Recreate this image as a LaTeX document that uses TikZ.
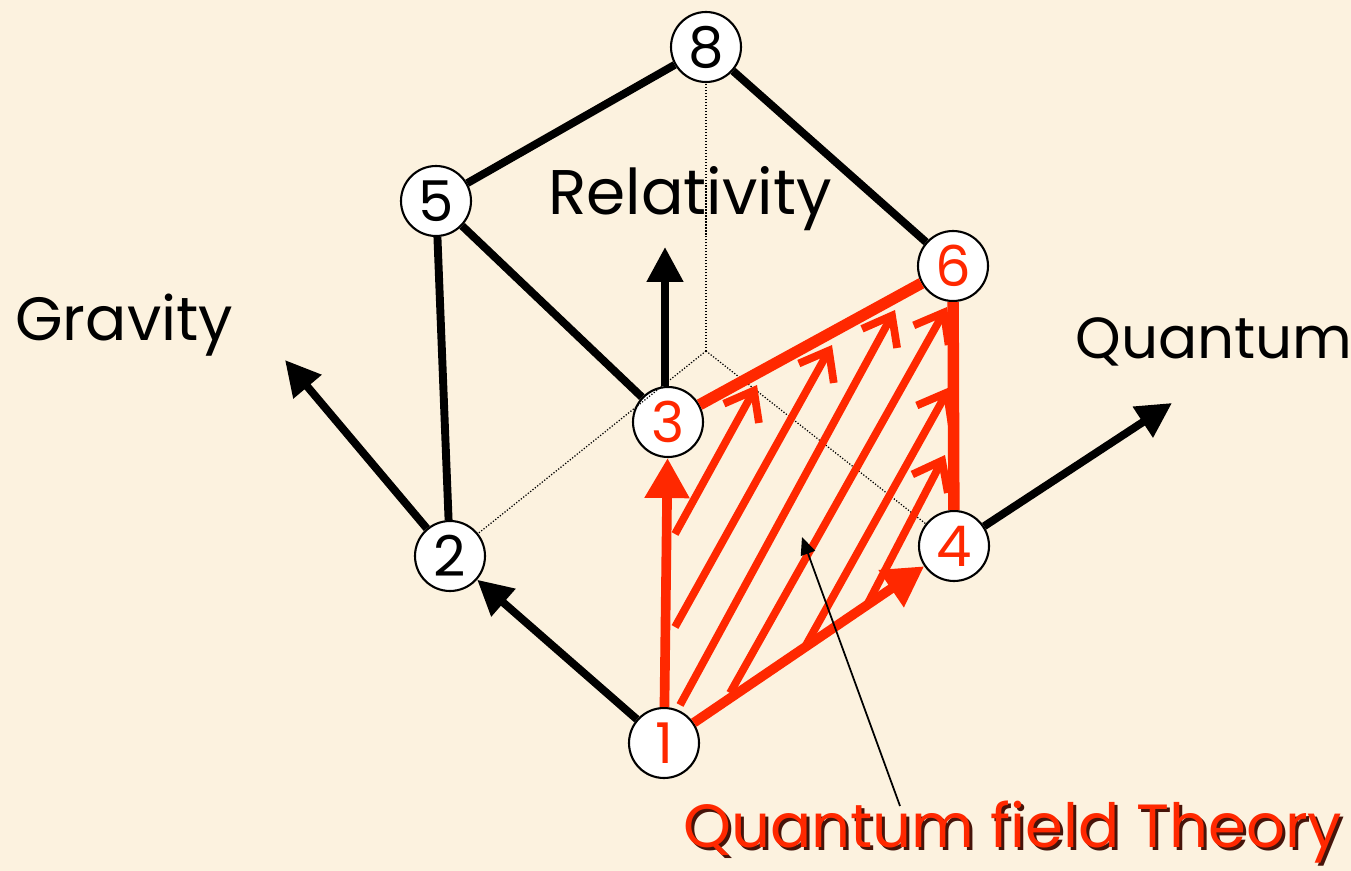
\documentclass[tikz,border=0pt]{standalone}
\usepackage{fontspec}
\setmainfont{Poppins}
\usetikzlibrary{arrows.meta}
\definecolor{paper}{RGB}{252,242,223}
\definecolor{qred}{RGB}{255,40,0}
\definecolor{qshadow}{RGB}{70,20,10}
\tikzset{
  vtx/.style={circle, draw=black, line width=1.2pt, fill=white, minimum size=1.4cm, inner sep=0pt, font=\fontsize{32}{32}\selectfont},
  cubeedge/.style={line width=4.5pt},
  axis/.style={line width=4.5pt, -{Triangle[length=0.7cm, width=0.7cm]}},
  redaxis/.style={qred, line width=5.5pt, -{Triangle[length=0.8cm, width=0.85cm]}},
  rededge/.style={qred, line width=6.5pt},
  hatch/.style={qred, line width=4.4pt, -{Straight Barb[length=0.52cm, width=0.8cm]}},
  hidden/.style={densely dotted, line width=0.7pt},
  label/.style={anchor=base west, inner sep=0pt}
}
\begin{document}
\begin{tikzpicture}[x=0.02cm, y=-0.02cm]
    \fill[paper] (0,0) rectangle (1351,871);
    \useasboundingbox (0,0) rectangle (1351,871);

    % cube vertices
    \node[vtx] (n8) at (706,47) {8};
    \node[vtx] (n5) at (436,201) {5};
    \node[vtx, text=qred] (n6) at (953,266) {6};
    \node[vtx, text=qred] (n3) at (668,422) {3};
    \node[vtx] (n2) at (450,556) {2};
    \node[vtx, text=qred] (n4) at (954,546) {4};
    \node[vtx, text=qred] (n1) at (664,743) {1};
    \coordinate (n7) at (706,351);

    % hidden edges
    \draw[hidden] (n7) -- (n8);
    \draw[hidden] (n7) -- (n2);
    \draw[hidden] (n7) -- (n4);

    % visible edges
    \draw[cubeedge] (n8) -- (n5);
    \draw[cubeedge] (n8) -- (n6);
    \draw[cubeedge] (n5) -- (n2);
    \draw[cubeedge] (n5) -- (n3);

    % axes
    \coordinate (gtip) at (285,360);
    \coordinate (rtip) at (665,247);
    \coordinate (qtip) at (1172,403);
    \draw[axis] (n1) -- (n2);
    \draw[axis] (n2) -- (gtip);
    \draw[axis] (n3.north) ++(-3,0) -- (rtip);
    \draw[axis] (n4) -- (qtip);

    % quantum field theory face
    \draw[rededge] (n3) -- (n6);
    \draw[rededge] (n4) -- (n6);
    \draw[redaxis] (n1) -- (n3);
    \draw[redaxis] (n1) -- (n4);
    \foreach \xa/\ya/\xb/\yb in {675/534/757/385, 675/627/832/345, 680/705/895/310,
        730/693/947/307, 806/645/950/387, 868/603/945/455}
      \draw[hatch] (\xa,\ya) -- (\xb,\yb);

    % labels
    \node[label, font=\fontsize{34.8}{35}\selectfont] (grav) at (15,340) {Gravity};
    \node[label, font=\fontsize{35.9}{36}\selectfont] (rel) at (548,215) {Relativity};
    \node[label, font=\fontsize{33}{33}\selectfont] (quant) at (1075,358) {Quantum};
    \node[label, text=qshadow, font=\fontsize{34.7}{35}\selectfont] at (686,850) {Quantum field Theory};
    \node[label, text=qred, font=\fontsize{34.7}{35}\selectfont] (qft) at (683,847) {Quantum field Theory};
    \coordinate (qftfoot) at (900,806);
    \coordinate (face) at (802,537);
    \draw[line width=1pt, -{Triangle[length=0.35cm, width=0.3cm]}] (qftfoot) -- (face);
\end{tikzpicture}
\end{document}
